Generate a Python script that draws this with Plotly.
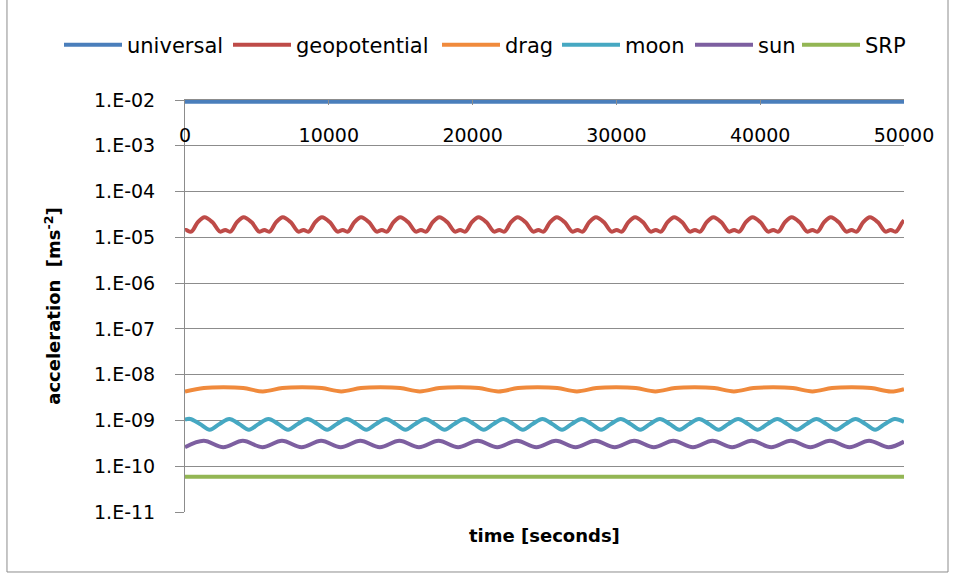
import plotly.graph_objects as go

# ---------------- data ----------------
series_names = ["universal", "geopotential", "drag", "moon", "sun", "SRP"]
series_colors = ["#4A7EBB", "#BE4B48", "#F08A3C", "#46A8C2", "#7D5FA0", "#93B654"]

t_universal = [0, 10000, 20000, 30000, 40000, 50000]
a_universal = [9.1e-3, 9.1e-3, 9.1e-3, 9.1e-3, 9.1e-3, 9.1e-3]

t_geopotential = [
    0, 77, 431, 893,
    1356, 1900, 2445, 2799, 3153, 3615,
    4078, 4622, 5167, 5521, 5875, 6337,
    6800, 7344, 7889, 8243, 8597, 9059,
    9522, 10066, 10611, 10965, 11319, 11781,
    12244, 12788, 13333, 13687, 14041, 14503,
    14966, 15510, 16055, 16409, 16763, 17225,
    17688, 18232, 18777, 19131, 19485, 19947,
    20410, 20954, 21499, 21853, 22207, 22669,
    23132, 23676, 24221, 24575, 24929, 25391,
    25854, 26398, 26943, 27297, 27651, 28113,
    28576, 29120, 29665, 30019, 30373, 30835,
    31298, 31842, 32387, 32741, 33095, 33557,
    34020, 34564, 35109, 35463, 35817, 36279,
    36742, 37286, 37831, 38185, 38539, 39001,
    39464, 40008, 40553, 40907, 41261, 41723,
    42186, 42730, 43275, 43629, 43983, 44445,
    44908, 45452, 45997, 46351, 46705, 47167,
    47630, 48174, 48719, 49073, 49427, 49889,
    50000,
]
a_geopotential = [
    1.44e-5, 1.45e-5, 1.33e-5, 2.15e-5,
    2.75e-5, 2.15e-5, 1.33e-5, 1.45e-5, 1.33e-5, 2.15e-5,
    2.75e-5, 2.15e-5, 1.33e-5, 1.45e-5, 1.33e-5, 2.15e-5,
    2.75e-5, 2.15e-5, 1.33e-5, 1.45e-5, 1.33e-5, 2.15e-5,
    2.75e-5, 2.15e-5, 1.33e-5, 1.45e-5, 1.33e-5, 2.15e-5,
    2.75e-5, 2.15e-5, 1.33e-5, 1.45e-5, 1.33e-5, 2.15e-5,
    2.75e-5, 2.15e-5, 1.33e-5, 1.45e-5, 1.33e-5, 2.15e-5,
    2.75e-5, 2.15e-5, 1.33e-5, 1.45e-5, 1.33e-5, 2.15e-5,
    2.75e-5, 2.15e-5, 1.33e-5, 1.45e-5, 1.33e-5, 2.15e-5,
    2.75e-5, 2.15e-5, 1.33e-5, 1.45e-5, 1.33e-5, 2.15e-5,
    2.75e-5, 2.15e-5, 1.33e-5, 1.45e-5, 1.33e-5, 2.15e-5,
    2.75e-5, 2.15e-5, 1.33e-5, 1.45e-5, 1.33e-5, 2.15e-5,
    2.75e-5, 2.15e-5, 1.33e-5, 1.45e-5, 1.33e-5, 2.15e-5,
    2.75e-5, 2.15e-5, 1.33e-5, 1.45e-5, 1.33e-5, 2.15e-5,
    2.75e-5, 2.15e-5, 1.33e-5, 1.45e-5, 1.33e-5, 2.15e-5,
    2.75e-5, 2.15e-5, 1.33e-5, 1.45e-5, 1.33e-5, 2.15e-5,
    2.75e-5, 2.15e-5, 1.33e-5, 1.45e-5, 1.33e-5, 2.15e-5,
    2.75e-5, 2.15e-5, 1.33e-5, 1.45e-5, 1.33e-5, 2.15e-5,
    2.75e-5, 2.15e-5, 1.33e-5, 1.45e-5, 1.33e-5, 2.15e-5,
    2.35e-5,
]

t_drag = [
    0, 1315, 2680, 4045,
    5410, 6775, 8140, 9505,
    10870, 12235, 13600, 14965,
    16330, 17695, 19060, 20425,
    21790, 23155, 24520, 25885,
    27250, 28615, 29980, 31345,
    32710, 34075, 35440, 36805,
    38170, 39535, 40900, 42265,
    43630, 44995, 46360, 47725,
    49090, 50000,
]
a_drag = [
    4.3e-9, 5.1e-9, 5.3e-9, 5.1e-9,
    4.3e-9, 5.1e-9, 5.3e-9, 5.1e-9,
    4.3e-9, 5.1e-9, 5.3e-9, 5.1e-9,
    4.3e-9, 5.1e-9, 5.3e-9, 5.1e-9,
    4.3e-9, 5.1e-9, 5.3e-9, 5.1e-9,
    4.3e-9, 5.1e-9, 5.3e-9, 5.1e-9,
    4.3e-9, 5.1e-9, 5.3e-9, 5.1e-9,
    4.3e-9, 5.1e-9, 5.3e-9, 5.1e-9,
    4.3e-9, 5.1e-9, 5.3e-9, 5.1e-9,
    4.3e-9, 4.85e-9,
]

t_moon = [
    0,
    359, 1039, 1720, 2400,
    3081, 3761, 4442, 5122,
    5803, 6483, 7164, 7844,
    8525, 9205, 9886, 10566,
    11247, 11927, 12608, 13288,
    13969, 14649, 15330, 16010,
    16691, 17371, 18052, 18732,
    19413, 20093, 20774, 21454,
    22135, 22815, 23496, 24176,
    24857, 25537, 26218, 26898,
    27579, 28259, 28940, 29620,
    30301, 30981, 31662, 32342,
    33023, 33703, 34384, 35064,
    35745, 36425, 37106, 37786,
    38467, 39147, 39828, 40508,
    41189, 41869, 42550, 43230,
    43911, 44591, 45272, 45952,
    46633, 47313, 47994, 48674,
    49355, 50000,
]
a_moon = [
    1.04e-9,
    1.08e-9, 8.4e-10, 6.3e-10, 8.4e-10,
    1.08e-9, 8.4e-10, 6.3e-10, 8.4e-10,
    1.08e-9, 8.4e-10, 6.3e-10, 8.4e-10,
    1.08e-9, 8.4e-10, 6.3e-10, 8.4e-10,
    1.08e-9, 8.4e-10, 6.3e-10, 8.4e-10,
    1.08e-9, 8.4e-10, 6.3e-10, 8.4e-10,
    1.08e-9, 8.4e-10, 6.3e-10, 8.4e-10,
    1.08e-9, 8.4e-10, 6.3e-10, 8.4e-10,
    1.08e-9, 8.4e-10, 6.3e-10, 8.4e-10,
    1.08e-9, 8.4e-10, 6.3e-10, 8.4e-10,
    1.08e-9, 8.4e-10, 6.3e-10, 8.4e-10,
    1.08e-9, 8.4e-10, 6.3e-10, 8.4e-10,
    1.08e-9, 8.4e-10, 6.3e-10, 8.4e-10,
    1.08e-9, 8.4e-10, 6.3e-10, 8.4e-10,
    1.08e-9, 8.4e-10, 6.3e-10, 8.4e-10,
    1.08e-9, 8.4e-10, 6.3e-10, 8.4e-10,
    1.08e-9, 8.4e-10, 6.3e-10, 8.4e-10,
    1.08e-9, 8.4e-10, 6.3e-10, 8.4e-10,
    1.08e-9, 9.3e-10,
]

t_sun = [
    0, 1300, 2661, 4022, 5383, 6744, 8105, 9466, 10827, 12188,
    13549, 14910, 16271, 17632, 18993, 20354, 21715, 23076, 24437, 25798,
    27159, 28520, 29881, 31242, 32603, 33964, 35325, 36686, 38047, 39408,
    40769, 42130, 43491, 44852, 46213, 47574, 48935, 50000,
]
a_sun = [
    2.6e-10, 3.6e-10, 2.6e-10, 3.6e-10, 2.6e-10, 3.6e-10, 2.6e-10, 3.6e-10, 2.6e-10, 3.6e-10,
    2.6e-10, 3.6e-10, 2.6e-10, 3.6e-10, 2.6e-10, 3.6e-10, 2.6e-10, 3.6e-10, 2.6e-10, 3.6e-10,
    2.6e-10, 3.6e-10, 2.6e-10, 3.6e-10, 2.6e-10, 3.6e-10, 2.6e-10, 3.6e-10, 2.6e-10, 3.6e-10,
    2.6e-10, 3.6e-10, 2.6e-10, 3.6e-10, 2.6e-10, 3.6e-10, 2.6e-10, 3.45e-10,
]

t_srp = [0, 10000, 20000, 30000, 40000, 50000]
a_srp = [5.9e-11, 5.9e-11, 5.9e-11, 5.9e-11, 5.9e-11, 5.9e-11]

x_tick_vals = [0, 10000, 20000, 30000, 40000, 50000]
x_tick_text = ["0", "10000", "20000", "30000", "40000", "50000"]
y_tick_vals = [1e-2, 1e-3, 1e-4, 1e-5, 1e-6, 1e-7, 1e-8, 1e-9, 1e-10, 1e-11]
y_tick_text = ["1.E-02", "1.E-03", "1.E-04", "1.E-05", "1.E-06",
               "1.E-07", "1.E-08", "1.E-09", "1.E-10", "1.E-11"]

# ---------------- figure ----------------
FONT = "DejaVu Sans"
GRID = "#8C8C8C"
W, H = 959, 581
ML, MR, MT, MB = 185, 55, 100, 69
PW = W - ML - MR

def px_to_paper_x(px):
    return (px - ML) / PW

all_t = [t_universal, t_geopotential, t_drag, t_moon, t_sun, t_srp]
all_a = [a_universal, a_geopotential, a_drag, a_moon, a_sun, a_srp]
legend_ids = ["legend", "legend2", "legend3", "legend4", "legend5", "legend6"]
legend_left_px = [59, 228, 437, 557, 690, 797]

fig = go.Figure()
for name, color, tt, aa, lid in zip(series_names, series_colors, all_t, all_a, legend_ids):
    fig.add_trace(go.Scatter(
        x=tt, y=aa, name=name, mode="lines", legend=lid,
        line=dict(color=color, width=4, shape="spline", smoothing=1.0),
    ))

legend_layouts = {}
for lid, lpx in zip(legend_ids, legend_left_px):
    legend_layouts[lid] = dict(
        orientation="h", x=px_to_paper_x(lpx), xanchor="left",
        y=1.133, yanchor="middle",
        font=dict(family=FONT, size=21, color="#000000"),
        itemwidth=58, bgcolor="rgba(0,0,0,0)", borderwidth=0,
    )

fig.update_layout(
    width=W, height=H,
    margin=dict(l=ML, r=MR, t=MT, b=MB),
    paper_bgcolor="white", plot_bgcolor="white",
    font=dict(family=FONT, color="#000000"),
    showlegend=True,
    xaxis=dict(
        range=[0, 50000], side="top",
        tickvals=x_tick_vals, ticktext=x_tick_text,
        ticks="inside", ticklen=5, tickcolor=GRID, tickwidth=1,
        ticklabelposition="inside", ticklabeloverflow="allow",
        ticklabelstandoff=25,
        tickfont=dict(family=FONT, size=19, color="#000000"),
        showline=True, linecolor=GRID, linewidth=1,
        showgrid=False, zeroline=False, fixedrange=True,
    ),
    yaxis=dict(
        type="log", range=[-11, -2],
        tickvals=y_tick_vals, ticktext=y_tick_text,
        ticks="outside", ticklen=9, tickcolor=GRID, tickwidth=1,
        ticklabelstandoff=16,
        tickfont=dict(family=FONT, size=19, color="#000000"),
        showline=True, linecolor=GRID, linewidth=1,
        showgrid=True, gridcolor=GRID, gridwidth=1,
        zeroline=False, fixedrange=True,
        title=dict(text="acceleration  [ms<sup>-2</sup>]",
                   font=dict(family=FONT, size=18, color="#000000", weight="bold"),
                   standoff=28),
    ),
    annotations=[dict(
        text="<b>time [seconds]</b>", xref="paper", yref="paper",
        x=0.5, y=-0.058, xanchor="center", yanchor="middle", showarrow=False,
        font=dict(family=FONT, size=18, color="#000000"),
    )],
    shapes=[dict(
        type="rect", xref="paper", yref="paper",
        x0=-0.2476, x1=1.0612, y0=-0.1456, y1=1.245,
        line=dict(color="#8C8C8C", width=1), layer="above",
    )],
    **legend_layouts,
)

fig.write_html("out.html")
